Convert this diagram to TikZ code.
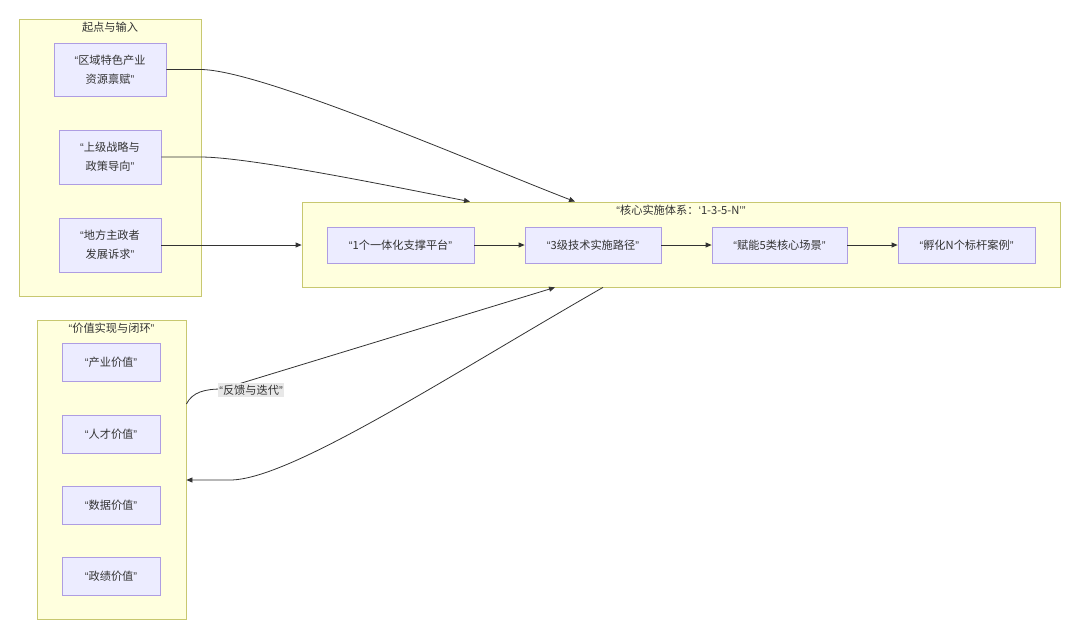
\documentclass[tikz,border=0pt]{standalone}
\usepackage{fontspec}
\setmainfont{Noto Sans CJK SC}
\newfontfamily\latq{Liberation Sans}
\usetikzlibrary{arrows.meta}
\definecolor{clfill}{HTML}{FFFFDE}
\definecolor{cldraw}{HTML}{C8C870}
\definecolor{ndfill}{HTML}{ECECFF}
\definecolor{nddraw}{HTML}{AE9DE2}
\definecolor{txt}{HTML}{333333}
\definecolor{lblbg}{HTML}{E8E8E8}
\newcommand\qt[1]{{\latq “}#1{\latq ”}}
\begin{document}
\begin{tikzpicture}[x=1pt,y=-1pt, font=\fontsize{11.2}{19}\selectfont, text=txt,
 cluster/.style={draw=cldraw, fill=clfill, line width=0.8pt, inner sep=0pt},
 box/.style={draw=nddraw, fill=ndfill, line width=0.8pt, inner sep=0pt, align=center},
 ctitle/.style={inner sep=1pt},
 link/.style={draw=txt, line width=0.8pt, -{Triangle[length=6pt,width=5pt]}},
 lbl/.style={fill=lblbg, inner sep=1.5pt}]
\useasboundingbox (0,0) rectangle (1080,638);
% clusters
\node[cluster, minimum width=182pt, minimum height=277pt] (inp) at (110,157.5) {};
\node[ctitle] (inpT) at (110,27) {起点与输入};
\node[cluster, minimum width=758pt, minimum height=85pt] (core) at (681,244.5) {};
\node[ctitle] (coreT) at (681,210) {\qt{核心实施体系：{\latq ‘}1-3-5-N{\latq ’}}};
\node[cluster, minimum width=149pt, minimum height=299pt] (val) at (111.5,469.5) {};
\node[ctitle] (valT) at (111.5,328) {\qt{价值实现与闭环}};
% input nodes
\node[box, minimum width=112pt, minimum height=53pt] (A) at (110,69.5) {{\latq “}区域特色产业\\资源禀赋{\latq ”}};
\node[box, minimum width=102pt, minimum height=54pt] (B) at (110,157) {{\latq “}上级战略与\\政策导向{\latq ”}};
\node[box, minimum width=102pt, minimum height=54pt] (C) at (110,245) {{\latq “}地方主政者\\发展诉求{\latq ”}};
% core nodes
\node[box, minimum width=147pt, minimum height=36pt] (D1) at (400.5,245) {\qt{1个一体化支撑平台}};
\node[box, minimum width=136pt, minimum height=36pt] (D2) at (593,245) {\qt{3级技术实施路径}};
\node[box, minimum width=135pt, minimum height=36pt] (D3) at (779.5,245) {\qt{赋能5类核心场景}};
\node[box, minimum width=137pt, minimum height=36pt] (D4) at (966.5,245) {\qt{孵化N个标杆案例}};
% value nodes
\node[box, minimum width=98pt, minimum height=38pt] (E1) at (111,362) {\qt{产业价值}};
\node[box, minimum width=98pt, minimum height=38pt] (E2) at (111,434) {\qt{人才价值}};
\node[box, minimum width=98pt, minimum height=38pt] (E3) at (111,505) {\qt{数据价值}};
\node[box, minimum width=98pt, minimum height=38pt] (E4) at (111,576) {\qt{政绩价值}};
% edges
\draw[link] (A.east) -- ++(34,0) .. controls +(60,0) and (480,165) .. ([xshift=-106pt]core.north);
\draw[link] (B.east) -- ++(39,0) .. controls +(50,0) and (400,188) .. ([xshift=-211pt]core.north);
\draw[link] (C.east) -- (C.east -| core.west);
\draw[link] (D1) -- (D2);
\draw[link] (D2) -- (D3);
\draw[link] (D3) -- (D4);
\draw[link] ([yshift=65.5pt]val.east) .. controls +(6,-12) and (205,389) .. (222,389) -- ([xshift=-126pt]core.south);
\node[lbl] (fbl) at (251,390) {\qt{反馈与迭代}};
\draw[link] ([xshift=-78pt]core.south) .. controls (450,375) and (290,480) .. (230,480) -- ([yshift=-10.5pt]val.east);
\end{tikzpicture}
\end{document}
